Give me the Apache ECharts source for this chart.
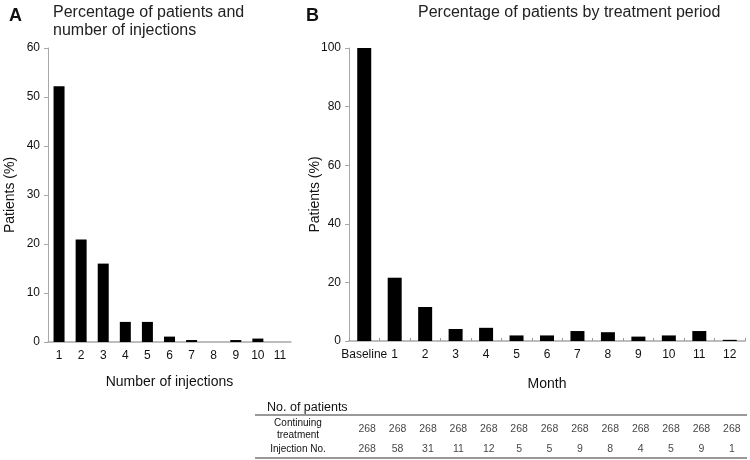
<!DOCTYPE html>
<html><head><meta charset="utf-8">
<script src="https://cdn.jsdelivr.net/npm/echarts@6/dist/echarts.min.js"></script>
<style>html,body{margin:0;padding:0;background:#fff}#c{width:750px;height:460px}</style>
</head><body><div id="c"></div>
<script>
var injCategories = ['1','2','3','4','5','6','7','8','9','10','11'];
var injPercent = [52.2, 20.9, 16.0, 4.1, 4.1, 1.1, 0.4, 0, 0.4, 0.7, 0];
var monthCategories = ['Baseline','1','2','3','4','5','6','7','8','9','10','11','12'];
var monthPercent = [100, 21.6, 11.6, 4.1, 4.5, 1.9, 1.9, 3.4, 3.0, 1.5, 1.9, 3.4, 0.4];
var continuingTreatment = [268,268,268,268,268,268,268,268,268,268,268,268,268];
var injectionNo = [268,58,31,11,12,5,5,9,8,4,5,9,1];
var tableRows = ['Injection No.', 'Continuing\ntreatment'];

var FONT = 'Liberation Sans, Arial, sans-serif';
var chart = echarts.init(document.getElementById('c'), null, {renderer:'canvas'});

var tableData = [];
monthCategories.forEach(function(c,i){
  tableData.push([i, 1, continuingTreatment[i]]);
  tableData.push([i, 0, injectionNo[i]]);
});

var option = {
  backgroundColor:'#fff',
  animation:false,
  textStyle:{fontFamily:FONT},
  title:[
    {text:'A', left:4, top:2, textStyle:{fontSize:18, fontWeight:'bold', color:'#111', fontFamily:FONT}},
    {text:'Percentage of patients and\nnumber of injections', left:48, top:-1, textStyle:{fontSize:16, fontWeight:'normal', color:'#222', lineHeight:18, fontFamily:FONT}},
    {text:'B', left:301, top:2, textStyle:{fontSize:18, fontWeight:'bold', color:'#111', fontFamily:FONT}},
    {text:'Percentage of patients by treatment period', left:413, top:0, textStyle:{fontSize:16, fontWeight:'normal', color:'#222', fontFamily:FONT}},
    {text:'No. of patients', left:262, top:396, textStyle:{fontSize:12.5, fontWeight:'normal', color:'#111', fontFamily:FONT}}
  ],
  grid:[
    {left:48, top:48, width:243, height:294},
    {left:349, top:48, width:396, height:293},
    {left:352, top:419, width:395, height:40}
  ],
  xAxis:[
    {gridIndex:0, type:'category', data:injCategories,
     axisLine:{lineStyle:{color:'#a8a8a8', width:1.5}}, axisTick:{show:false},
     axisLabel:{color:'#111', fontSize:12, margin:8, interval:0},
     name:'Number of injections', nameLocation:'middle', nameGap:33,
     nameTextStyle:{fontSize:14, color:'#111'}},
    {gridIndex:1, type:'category', data:monthCategories,
     axisLine:{lineStyle:{color:'#a8a8a8', width:1.5}},
     axisTick:{show:true, inside:true, length:3, interval:0, lineStyle:{color:'#999'}},
     axisLabel:{color:'#111', fontSize:12, margin:8, interval:0},
     name:'Month', nameLocation:'middle', nameGap:36,
     nameTextStyle:{fontSize:14, color:'#111'}},
    {gridIndex:2, type:'category', data:monthCategories, show:false}
  ],
  yAxis:[
    {gridIndex:0, type:'value', min:0, max:60, interval:10,
     axisLine:{show:true, lineStyle:{color:'#a8a8a8'}},
     axisTick:{show:true, length:4, lineStyle:{color:'#a8a8a8'}},
     splitLine:{show:false},
     axisLabel:{color:'#111', fontSize:12, margin:8},
     name:'Patients (%)', nameLocation:'middle', nameGap:31, nameMoveOverlap:false,
     nameTextStyle:{fontSize:14, color:'#111'}},
    {gridIndex:1, type:'value', min:0, max:100, interval:20,
     axisLine:{show:true, lineStyle:{color:'#a8a8a8'}},
     axisTick:{show:true, length:4, lineStyle:{color:'#a8a8a8'}},
     splitLine:{show:false},
     axisLabel:{color:'#111', fontSize:12, margin:8},
     name:'Patients (%)', nameLocation:'middle', nameGap:27, nameMoveOverlap:false,
     nameTextStyle:{fontSize:14, color:'#111'}},
    {gridIndex:2, type:'category', data:tableRows,
     axisLine:{show:false}, axisTick:{show:false}, splitLine:{show:false},
     axisLabel:{color:'#111', fontSize:10, lineHeight:12, align:'center', margin:54}}
  ],
  series:[
    {type:'bar', xAxisIndex:0, yAxisIndex:0, data:injPercent, barWidth:11, itemStyle:{color:'#000'}},
    {type:'bar', xAxisIndex:1, yAxisIndex:1, data:monthPercent, barWidth:14, itemStyle:{color:'#000'}},
    {type:'scatter', xAxisIndex:2, yAxisIndex:2, data:tableData, symbolSize:0,
     label:{show:true, position:'inside', color:'#111', fontSize:10.5,
       formatter:function(p){return String(p.value[2]);}}}
  ],
  graphic:[
    {type:'line', shape:{x1:255, y1:415, x2:747, y2:415}, style:{stroke:'#777', lineWidth:1.5}},
    {type:'line', shape:{x1:255, y1:458, x2:747, y2:458}, style:{stroke:'#777', lineWidth:1.5}}
  ]
};
chart.setOption(option);
</script></body></html>
